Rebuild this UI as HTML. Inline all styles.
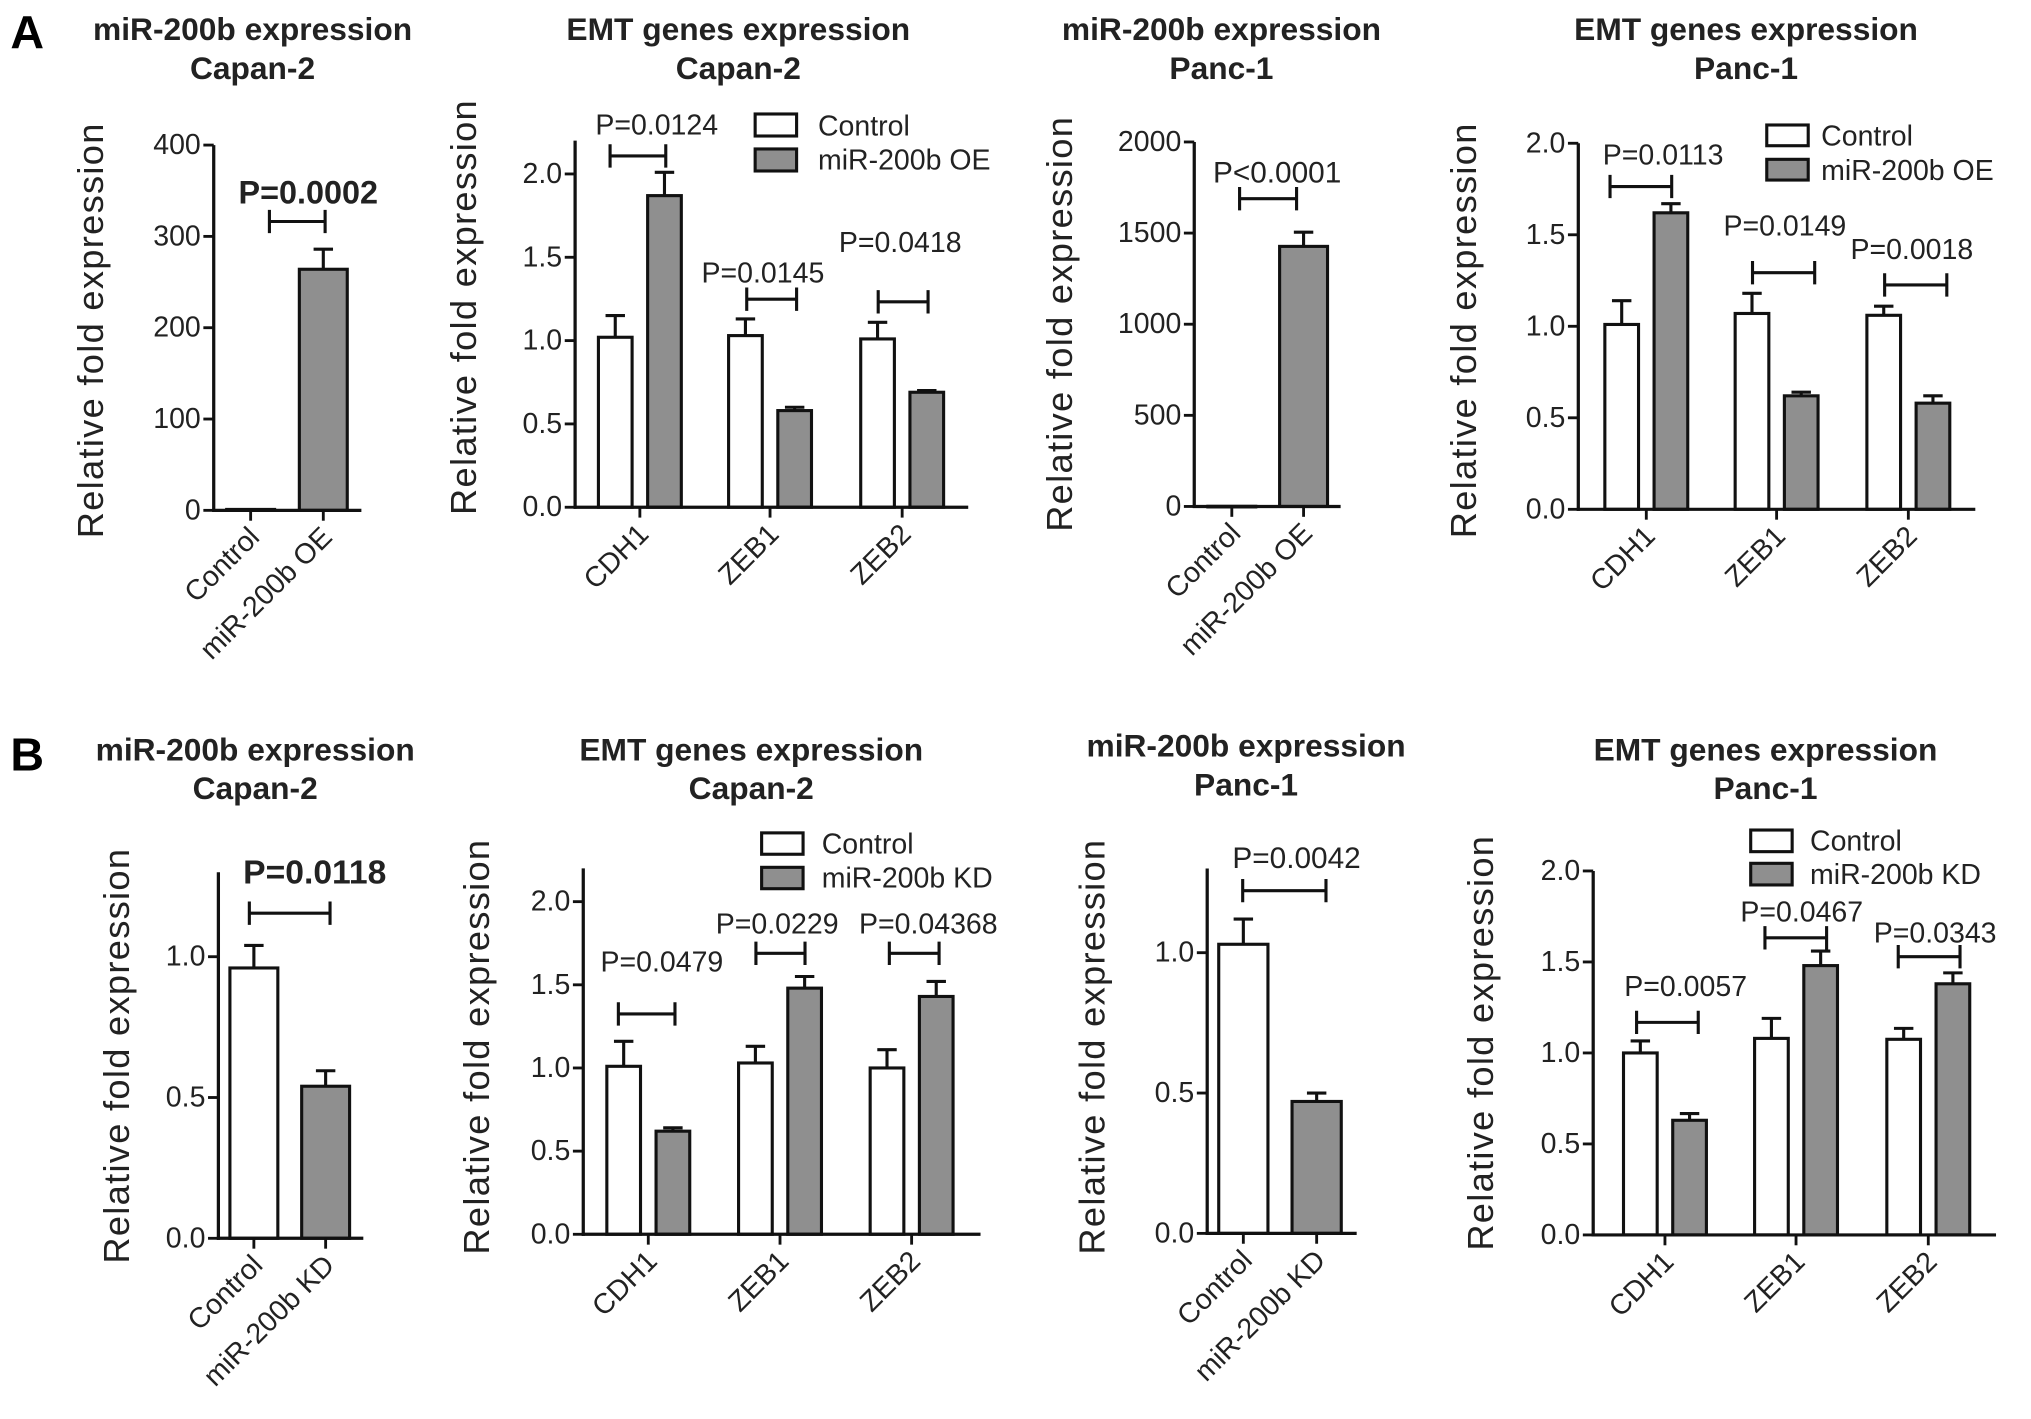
<!DOCTYPE html>
<html><head><meta charset="utf-8"><style>
html,body{margin:0;padding:0;background:#fff;}
svg{display:block;font-family:"Liberation Sans",Arial,sans-serif;}
</style></head><body>
<svg id="fig" width="2031" height="1419" viewBox="0 0 1568 1095.5" preserveAspectRatio="none" xmlns="http://www.w3.org/2000/svg">
<rect width="1568" height="1095.5" fill="#fff"/>
<text x="8" y="37" font-size="36" font-weight="bold">A</text>
<text x="8" y="595" font-size="36" font-weight="bold">B</text>
</svg>
<script>
// ---- data ----
const a1Cats = ["Control", "miR-200b OE"];
const a1Vals = [1, 264];
const a1Errs = [0, 22];
const a1P = ["P=0.0002"];

const a2Genes = ["CDH1", "ZEB1", "ZEB2"];
const a2Ctrl = [1.02, 1.03, 1.01];
const a2CtrlErr = [0.13, 0.10, 0.10];
const a2Trt = [1.87, 0.58, 0.69];
const a2TrtErr = [0.14, 0.02, 0.01];
const a2P = ["P=0.0124", "P=0.0145", "P=0.0418"];

const a3Cats = ["Control", "miR-200b OE"];
const a3Vals = [1, 1427];
const a3Errs = [0, 78];
const a3P = ["P<0.0001"];

const a4Genes = ["CDH1", "ZEB1", "ZEB2"];
const a4Ctrl = [1.01, 1.07, 1.06];
const a4CtrlErr = [0.13, 0.11, 0.05];
const a4Trt = [1.62, 0.62, 0.58];
const a4TrtErr = [0.05, 0.02, 0.04];
const a4P = ["P=0.0113", "P=0.0149", "P=0.0018"];

const b1Cats = ["Control", "miR-200b KD"];
const b1Vals = [0.96, 0.54];
const b1Errs = [0.08, 0.055];
const b1P = ["P=0.0118"];

const b2Genes = ["CDH1", "ZEB1", "ZEB2"];
const b2Ctrl = [1.01, 1.03, 1.00];
const b2CtrlErr = [0.15, 0.10, 0.11];
const b2Trt = [0.62, 1.48, 1.43];
const b2TrtErr = [0.02, 0.07, 0.09];
const b2P = ["P=0.0479", "P=0.0229", "P=0.04368"];

const b3Cats = ["Control", "miR-200b KD"];
const b3Vals = [1.03, 0.47];
const b3Errs = [0.09, 0.03];
const b3P = ["P=0.0042"];

const b4Genes = ["CDH1", "ZEB1", "ZEB2"];
const b4Ctrl = [1.00, 1.08, 1.075];
const b4CtrlErr = [0.066, 0.11, 0.06];
const b4Trt = [0.63, 1.48, 1.38];
const b4TrtErr = [0.037, 0.08, 0.06];
const b4P = ["P=0.0057", "P=0.0467", "P=0.0343"];

const ticksOE1 = [0, 100, 200, 300, 400];
const ticksFold2 = [0, 0.5, 1.0, 1.5, 2.0];
const ticksOE3 = [0, 500, 1000, 1500, 2000];
const ticksKD = [0, 0.5, 1.0];

// ---- rendering ----
const NS = "http://www.w3.org/2000/svg";
const svg = document.getElementById("fig");
const GRAY = "#8f8f8f";
function mk(tag, attrs, parent) {
  const e = document.createElementNS(NS, tag);
  for (const k in attrs) e.setAttribute(k, attrs[k]);
  (parent || svg).appendChild(e);
  return e;
}
function txt(parent, x, y, s, size, extra) {
  const t = mk("text", Object.assign({x: x, y: y, "font-size": size, fill: "#222"}, extra || {}), parent);
  t.textContent = s;
  return t;
}

function drawPanel(L) {
  const g = mk("g", {});
  
  
  const y = v => L.y0 - (L.y0 - L.yRef) * v / L.refVal;
  L.title.forEach((s, i) => {
    const t = txt(g, L.titleX, L.titleY[i], s, 24.5, {"text-anchor": "middle", "font-weight": "bold"});
    
    
  });
  const yl = txt(g, 0, 0, "Relative fold expression", 28, {"text-anchor": "middle", "dominant-baseline": "central", "letter-spacing": "1", transform: "translate(" + L.ylX + "," + L.ylY + ") rotate(-90)"});
  
  
  const bars = [];
  if (L.single) {
    L.cats.forEach((c, i) => bars.push({cx: L.centers[i], v: L.vals[i], e: L.errs[i], fill: i === 0 ? "#fff" : GRAY, name: "bar-" + c.toLowerCase().replace(/[^a-z0-9]+/g, "-")}));
  } else {
    L.cats.forEach((c, i) => {
      bars.push({cx: L.centers[i] - L.off, v: L.ctrl[i], e: L.ctrlErr[i], fill: "#fff", name: "bar-control-" + c.toLowerCase()});
      bars.push({cx: L.centers[i] + L.off, v: L.trt[i], e: L.trtErr[i], fill: GRAY, name: "bar-treatment-" + c.toLowerCase()});
    });
  }
  bars.forEach(b => {
    const top = y(b.v);
    if (b.e > 0) {
      const et = y(b.v + b.e);
      const l = mk("line", {x1: b.cx, x2: b.cx, y1: top, y2: et, stroke: "#111", "stroke-width": 2.4}, g);
      
      
      const cp = mk("line", {x1: b.cx - 7.5, x2: b.cx + 7.5, y1: et, y2: et, stroke: "#111", "stroke-width": 2.4}, g);
      
      
    }
    const r = mk("rect", {x: b.cx - L.barW / 2, y: top, width: L.barW, height: Math.max(L.y0 - top, 0.5), fill: b.fill, stroke: "#111", "stroke-width": 2.4}, g);
    
    
  });
  const ya = mk("line", {x1: L.axisX, x2: L.axisX, y1: y(L.topVal), y2: L.y0 + 1.2, stroke: "#111", "stroke-width": 2.5}, g);
  
  
  const xa = mk("line", {x1: L.axisX - 1.2, x2: L.xEnd, y1: L.y0, y2: L.y0, stroke: "#111", "stroke-width": 2.5}, g);
  
  
  L.ticks.forEach(v => {
    const ty = y(v);
    const tk = mk("line", {x1: L.axisX - 8, x2: L.axisX, y1: ty, y2: ty, stroke: "#111", "stroke-width": 2.2}, g);
    
    
    const tl = txt(g, L.axisX - 10, ty, L.fmt(v), 22, {"text-anchor": "end", "dominant-baseline": "central"});
    
    
  });
  L.cats.forEach((c, i) => {
    const cx = L.centers[i];
    const tk = mk("line", {x1: cx, x2: cx, y1: L.y0, y2: L.y0 + 8, stroke: "#111", "stroke-width": 2.2}, g);
    
    
    const tl = txt(g, 0, 0, c, 22, {"text-anchor": "end", transform: "translate(" + (cx + 8) + "," + (L.y0 + 22) + ") rotate(-45)"});
    
    
  });
  L.brk.forEach((b, i) => {
    const br = mk("path", {d: "M" + b[0] + "," + (b[2] - 9) + "V" + (b[2] + 9) + "M" + b[0] + "," + b[2] + "H" + b[1] + "M" + b[1] + "," + (b[2] - 9) + "V" + (b[2] + 9), stroke: "#111", "stroke-width": 2.4, fill: "none"}, g);
    
    
    const pt = txt(g, L.ptxt[i][0], L.ptxt[i][1], L.p[i], L.pSize, {"text-anchor": "middle", "font-weight": L.pBold ? "bold" : "normal"});
    
    
  });
  if (L.legend) {
    const lg = mk("g", {}, g);
    
    
    L.legend.labels.forEach((s, i) => {
      const bx = mk("rect", {x: L.legend.x, y: L.legend.ys[i], width: 32, height: L.legend.h, fill: i === 0 ? "#fff" : GRAY, stroke: "#111", "stroke-width": 2.4}, lg);
      
      
      const lt = txt(lg, L.legend.tx, L.legend.bl[i], s, 22);
      
      
    });
  }
}
const f1 = v => v.toFixed(1);
const f0 = v => String(v);

drawPanel({name: "panel-a1", single: true, cats: a1Cats, vals: a1Vals, errs: a1Errs, p: a1P,
  axisX: 165, y0: 394, yRef: 112, refVal: 400, topVal: 400, xEnd: 279, centers: [193.5, 249.6], barW: 37,
  ticks: ticksOE1, fmt: f0, brk: [[208, 251, 171]], ptxt: [[238, 157]], pSize: 25, pBold: true,
  title: ["miR-200b expression", "Capan-2"], titleX: 195, titleY: [31, 61], ylX: 70, ylY: 255});
drawPanel({name: "panel-a2", cats: a2Genes, ctrl: a2Ctrl, ctrlErr: a2CtrlErr, trt: a2Trt, trtErr: a2TrtErr, p: a2P,
  axisX: 444, y0: 391.6, yRef: 134.3, refVal: 2, topVal: 2.2, xEnd: 747.5, centers: [494, 594.5, 696.5], off: 19, barW: 26,
  ticks: ticksFold2, fmt: f1, brk: [[471, 514, 120.4], [576.5, 615, 231], [678, 716.5, 233]],
  ptxt: [[507, 104], [589, 218], [695, 194.5]], pSize: 22,
  legend: {x: 583, ys: [88, 115], h: 17, tx: 631.5, bl: [104.5, 131], labels: ["Control", "miR-200b OE"]},
  title: ["EMT genes expression", "Capan-2"], titleX: 570, titleY: [31, 61], ylX: 358, ylY: 237});
drawPanel({name: "panel-a3", single: true, cats: a3Cats, vals: a3Vals, errs: a3Errs, p: a3P,
  axisX: 922, y0: 391, yRef: 109.6, refVal: 2000, topVal: 2000, xEnd: 1035, centers: [951, 1006.4], barW: 37,
  ticks: ticksOE3, fmt: f0, brk: [[957, 1001, 153.4]], ptxt: [[986, 141]], pSize: 23,
  title: ["miR-200b expression", "Panc-1"], titleX: 943, titleY: [31, 61], ylX: 818, ylY: 250});
drawPanel({name: "panel-a4", cats: a4Genes, ctrl: a4Ctrl, ctrlErr: a4CtrlErr, trt: a4Trt, trtErr: a4TrtErr, p: a4P,
  axisX: 1218.5, y0: 393.2, yRef: 110.6, refVal: 2, topVal: 2.0, xEnd: 1525, centers: [1271, 1371.6, 1473.3], off: 19, barW: 26,
  ticks: ticksFold2, fmt: f1, brk: [[1243, 1290.6, 144], [1353, 1401, 210.5], [1455, 1503, 220]],
  ptxt: [[1284, 127], [1378, 182], [1476, 200]], pSize: 22,
  legend: {x: 1364, ys: [96.5, 123], h: 16, tx: 1406, bl: [112.5, 139], labels: ["Control", "miR-200b OE"]},
  title: ["EMT genes expression", "Panc-1"], titleX: 1348, titleY: [31, 61], ylX: 1130, ylY: 255});
drawPanel({name: "panel-b1", single: true, cats: b1Cats, vals: b1Vals, errs: b1Errs, p: b1P,
  axisX: 168.6, y0: 956, yRef: 738.6, refVal: 1, topVal: 1.3, xEnd: 280.5, centers: [196, 251.4], barW: 37,
  ticks: ticksKD, fmt: f1, brk: [[192.5, 254.8, 705]], ptxt: [[243, 682]], pSize: 26, pBold: true,
  title: ["miR-200b expression", "Capan-2"], titleX: 197, titleY: [587, 617], ylX: 90, ylY: 815});
drawPanel({name: "panel-b2", cats: b2Genes, ctrl: b2Ctrl, ctrlErr: b2CtrlErr, trt: b2Trt, trtErr: b2TrtErr, p: b2P,
  axisX: 450.3, y0: 952.9, yRef: 696.1, refVal: 2, topVal: 2.2, xEnd: 757, centers: [500.5, 602.2, 703.8], off: 19, barW: 26,
  ticks: ticksFold2, fmt: f1, brk: [[477.4, 521.1, 782.8], [583.6, 621.5, 736], [686.6, 725, 736]],
  ptxt: [[511, 750], [600, 720.5], [716.7, 720.5]], pSize: 22,
  legend: {x: 588, ys: [643, 669.6], h: 16.5, tx: 634.4, bl: [659, 685], labels: ["Control", "miR-200b KD"]},
  title: ["EMT genes expression", "Capan-2"], titleX: 580, titleY: [587, 617], ylX: 368, ylY: 808});
drawPanel({name: "panel-b3", single: true, cats: b3Cats, vals: b3Vals, errs: b3Errs, p: b3P,
  axisX: 932, y0: 952.2, yRef: 735.5, refVal: 1, topVal: 1.3, xEnd: 1047.4, centers: [959.9, 1016.5], barW: 38,
  ticks: ticksKD, fmt: f1, brk: [[959.4, 1023.7, 687.6]], ptxt: [[1001, 670]], pSize: 23,
  title: ["miR-200b expression", "Panc-1"], titleX: 962, titleY: [584, 614], ylX: 843, ylY: 808});
drawPanel({name: "panel-b4", cats: b4Genes, ctrl: b4Ctrl, ctrlErr: b4CtrlErr, trt: b4Trt, trtErr: b4TrtErr, p: b4P,
  axisX: 1230, y0: 953.4, yRef: 672.4, refVal: 2, topVal: 2.0, xEnd: 1541, centers: [1285.4, 1386.6, 1488.7], off: 19, barW: 26,
  ticks: ticksFold2, fmt: f1, brk: [[1263.5, 1311.1, 789.3], [1362.6, 1410.2, 724], [1465.5, 1513.2, 738.6]],
  ptxt: [[1301.4, 769], [1391, 711.5], [1494, 727.5]], pSize: 22,
  legend: {x: 1351.6, ys: [640.8, 666.5], h: 16.7, tx: 1397.4, bl: [656.5, 682.5], labels: ["Control", "miR-200b KD"]},
  title: ["EMT genes expression", "Panc-1"], titleX: 1363, titleY: [587, 617], ylX: 1143, ylY: 805});
</script>
</body></html>
